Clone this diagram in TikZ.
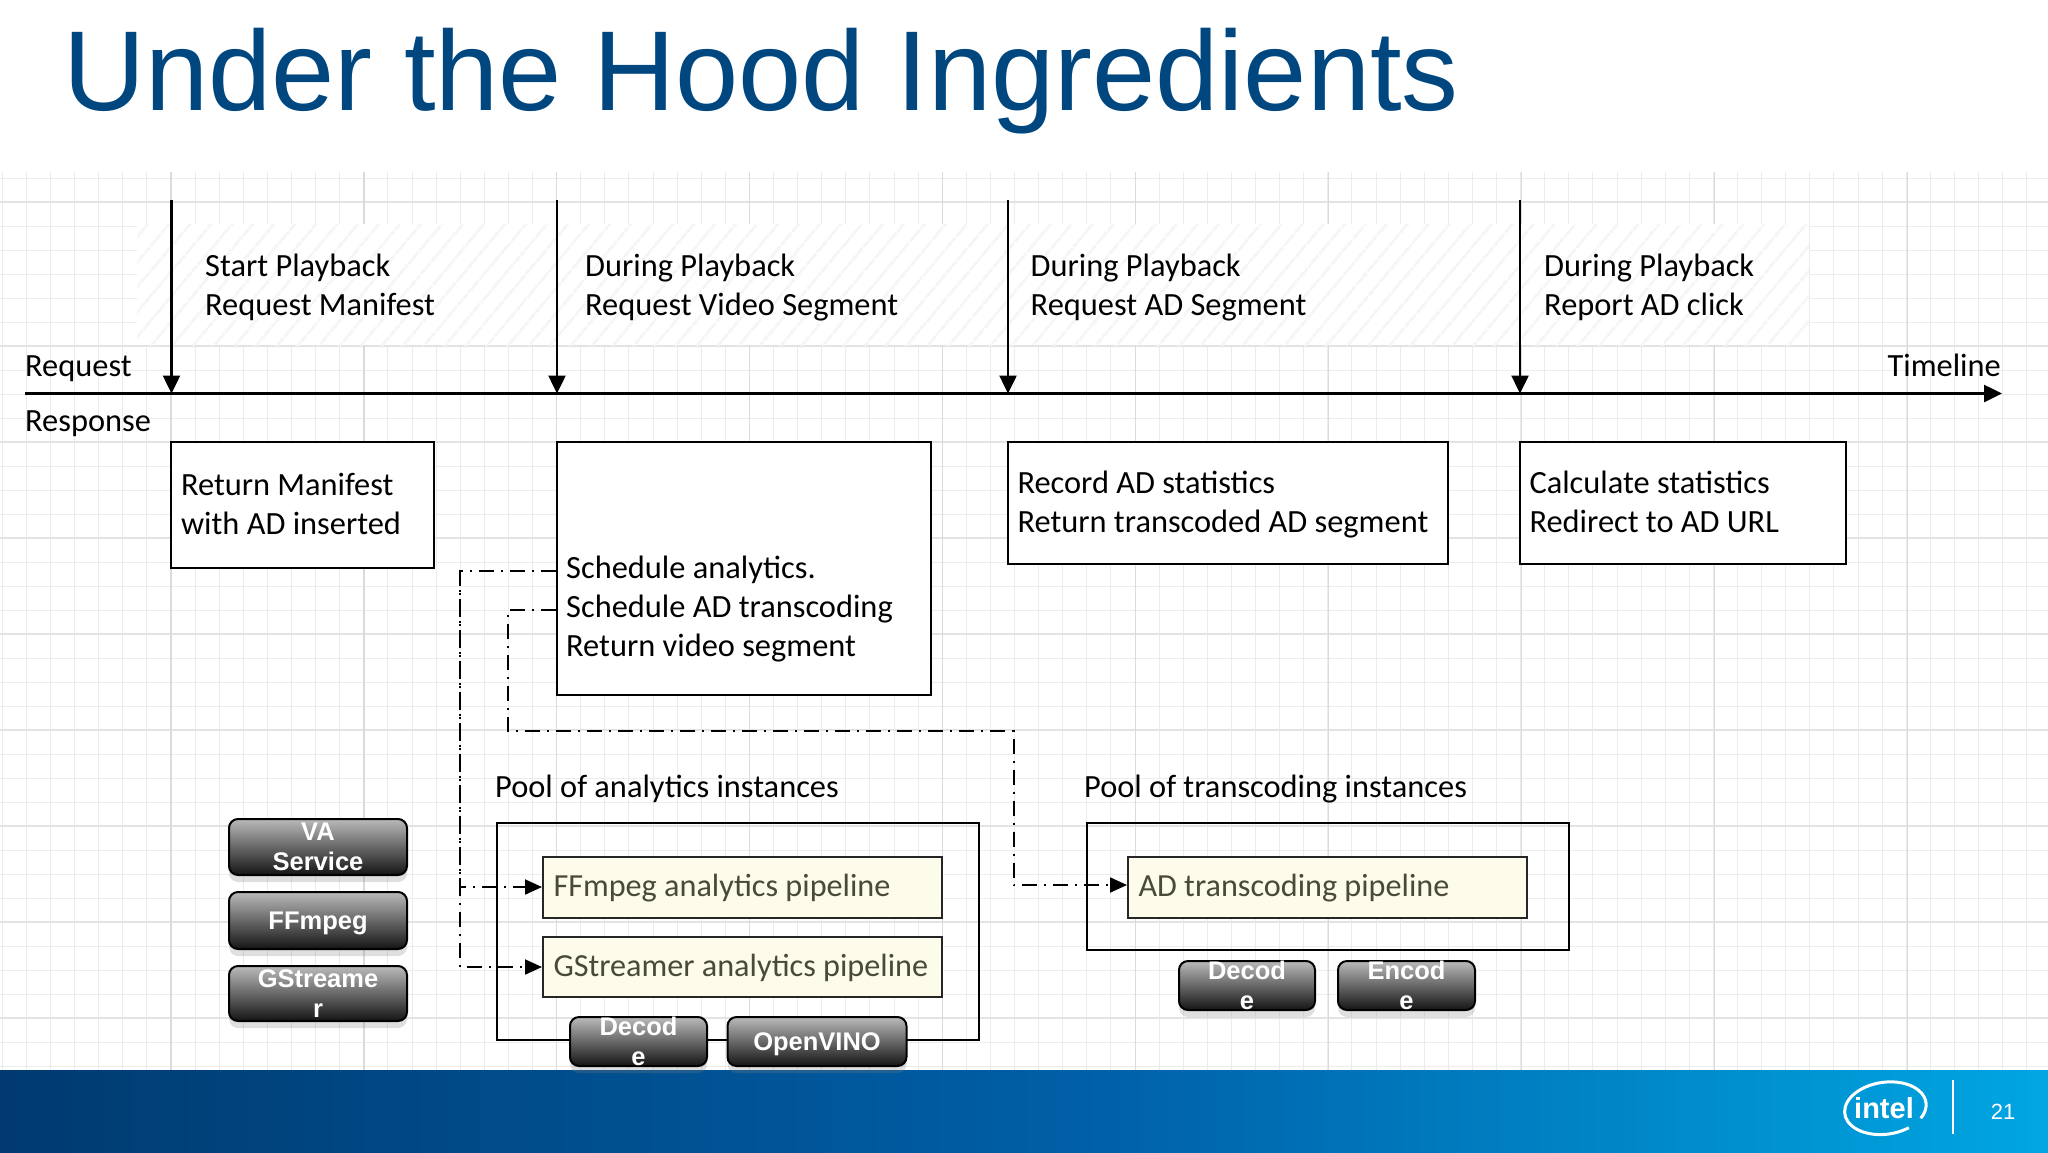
\documentclass[tikz,border=0pt]{standalone}
\usepackage{fontspec}
\setmainfont{Carlito}
\newfontfamily\arialfont{Liberation Sans}
\usetikzlibrary{arrows.meta,shadows,patterns.meta}
\definecolor{titleblue}{HTML}{00467F}
\definecolor{barleft}{HTML}{003A70}
\definecolor{barmid}{HTML}{0060A8}
\definecolor{barright}{HTML}{00A6E2}
\definecolor{pipefill}{HTML}{FDFBEA}
\definecolor{pipetext}{HTML}{4A4A38}
\newcommand{\pilltext}[1]{\smash{\raisebox{-9pt}{\makebox[0pt]{\parbox[c]{170pt}{\centering #1}}}}}
\newcommand{\pilltwo}[1]{\smash{\raisebox{-6.5pt}{\makebox[0pt]{\parbox[c]{170pt}{\centering #1}}}}}
\newcommand{\topstrut}{\rule{0pt}{31pt}}

\begin{document}
\begin{tikzpicture}[
    x=1pt,y=-1pt,
    label/.style={%
      anchor=west,
      align=left,
      inner sep=0pt,
      font=\fontsize{32.4}{38.8}\selectfont,
    },
    respbox/.style={%
      draw,
      line width=2pt,
      fill=white,
      align=flush left,
      inner xsep=10pt,
      inner ysep=0pt,
      execute at begin node=\topstrut,
      execute at end node=\strut,
      font=\fontsize{32.4}{38.8}\selectfont,
    },
    poolbox/.style={%
      draw,
      line width=2pt,
      inner sep=0pt,
    },
    pipebox/.style={%
      draw=black!85,
      line width=2pt,
      fill=pipefill,
      text=pipetext,
      align=flush left,
      inner xsep=10.5pt,
      inner ysep=0pt,
      minimum height=61pt,
      execute at begin node=\topstrut,
      execute at end node=\strut,
      font=\fontsize{32.2}{38.8}\selectfont,
    },
    pill/.style={%
      draw=black,
      line width=2pt,
      rounded corners=9pt,
      top color=black!27,
      bottom color=black!92,
      text=white,
      inner sep=0pt,
      drop shadow={shadow xshift=0pt,shadow yshift=-7pt,opacity=0.25},
      font=\arialfont\bfseries\fontsize{25.5}{30}\selectfont,
    },
    timearrow/.style={%
      line width=2.5pt,
      -{Triangle[length=18pt,width=17pt]},
    },
    flow/.style={%
      line width=2pt,
      dash pattern=on 15pt off 7pt on 2pt off 7pt,
    },
    flowin/.style={%
      flow,
      -{Triangle[length=17pt,width=15pt]},
    },
  ]
    \useasboundingbox (0,0) rectangle (2048,1152);

    % sheet grid
    \foreach \gy in {0,...,37} {
      \draw [black!7,line width=1pt] (0,178+24*\gy) -- (2048,178+24*\gy);
    }
    \foreach \gx in {0,...,84} {
      \draw [black!8,line width=1pt] (2.3+24.1*\gx,172) -- (2.3+24.1*\gx,1070);
    }
    \foreach \gy in {202,346,442,538,634,730,826,922,1018} {
      \draw [black!11,line width=1.6pt] (0,\gy) -- (2048,\gy);
    }
    \foreach \gx in {0,...,10} {
      \draw [black!14,line width=1.2pt] (171+192.9*\gx,172) -- (171+192.9*\gx,1070);
    }

    % hatched band
    \fill [white] (137,224) rectangle (1809,345);
    \fill [pattern={Lines[angle=50,distance=17pt,line width=3pt]},pattern color=black!4] (137,224) rectangle (1809,345);

    % footer bar
    \fill [left color=barleft,right color=barmid] (0,1070) rectangle (1100,1152);
    \fill [left color=barmid,right color=barright] (1100,1070) rectangle (2048,1152);

    \node [anchor=base west,inner sep=0pt,text=titleblue,font=\arialfont\fontsize{113.6}{120}\selectfont] (title) at (63,110) {Under the Hood Ingredients};

    % request side
    \coordinate (req1) at (171.5,200);
    \coordinate (req2) at (557,200);
    \coordinate (req3) at (1008,200);
    \coordinate (req4) at (1520,200);
    \coordinate (time1) at (171.5,393.5);
    \coordinate (time2) at (557,393.5);
    \coordinate (time3) at (1008,393.5);
    \coordinate (time4) at (1520,393.5);
    \coordinate (timeL) at (25,393.5);
    \coordinate (timeR) at (2002,393.5);

    \node [label] (lreq1) at (205,287.5) {Start Playback\\Request Manifest};
    \node [label] (lreq2) at (585,287.5) {During Playback\\Request Video Segment};
    \node [label] (lreq3) at (1030.5,287.5) {During Playback\\Request AD Segment};
    \node [label] (lreq4) at (1544,287.5) {During Playback\\Report AD click};
    \node [label] (request) at (25,369) {Request};
    \node [label] (response) at (25,424) {Response};
    \node [label,anchor=east] (timeline) at (2001,365) {Timeline};

    \draw [timearrow] (req1) -- (time1);
    \draw [timearrow] (req2) -- (time2);
    \draw [timearrow] (req3) -- (time3);
    \draw [timearrow] (req4) -- (time4);
    \draw [timearrow] (timeL) -- (timeR);

    % response side
    \node [respbox,minimum height=126pt,text width=243pt] (manifest) at (302.5,505) {Return Manifest\\with AD inserted};
    \node [respbox,minimum height=253pt,text width=354pt] (sched) at (743.5,568.5) {};
    \node [label] (schedtext) at (566,609) {Schedule analytics.\\Schedule AD transcoding\\Return video segment};
    \node [respbox,minimum height=122pt,text width=420pt] (record) at (1227.5,503) {Record AD statistics\\Return transcoded AD segment};
    \node [respbox,minimum height=122pt,text width=306pt] (calc) at (1682.5,503) {Calculate statistics\\Redirect to AD URL};

    % pools
    \node [label] (lpoola) at (495,789) {Pool of analytics instances};
    \node [label] (lpoolt) at (1084,789) {Pool of transcoding instances};
    \node [poolbox,minimum width=482pt,minimum height=217pt] (poola) at (738,931.5) {};
    \node [poolbox,minimum width=482pt,minimum height=127pt] (poolt) at (1328,886.5) {};
    \node [pipebox,text width=378pt] (ffpipe) at (742.5,887) {FFmpeg analytics pipeline};
    \node [pipebox,text width=378pt,minimum height=60pt] (gstpipe) at (742.5,967) {GStreamer analytics pipeline};
    \node [pipebox,text width=378pt] (adpipe) at (1327.5,887) {AD transcoding pipeline};

    % dispatch
    \coordinate (schedA) at (556,571);
    \coordinate (schedB) at (556,610);
    \coordinate (tapA) at (460,571);
    \coordinate (tapB) at (508,610);
    \coordinate (tapC) at (508,731);
    \coordinate (tapD) at (1013.5,731);
    \draw [flowin] (schedA) -- (tapA) |- (ffpipe.west);
    \draw [flowin] (tapA) |- (gstpipe.west);
    \draw [flowin] (schedB) -- (tapB) -- (tapC) -- (tapD) |- (adpipe.west |- 0,885);

    % building blocks
    \node [pill,minimum width=178pt,minimum height=56pt] (vaservice) at (318,847) {\pilltwo{VA\\Service}};
    \node [pill,minimum width=178pt,minimum height=57pt] (ffmpeg) at (318,920.5) {\pilltext{FFmpeg}};
    \node [pill,minimum width=178pt,minimum height=55pt] (gstreamer) at (318,993.5) {\pilltwo{GStreame\\r}};
    \node [pill,minimum width=137pt,minimum height=49pt] (decodea) at (638.5,1041.5) {\pilltwo{Decod\\e}};
    \node [pill,minimum width=179pt,minimum height=49pt] (openvino) at (817,1041.5) {\pilltext{OpenVINO}};
    \node [pill,minimum width=136pt,minimum height=49pt] (decodet) at (1247,985.5) {\pilltwo{Decod\\e}};
    \node [pill,minimum width=137pt,minimum height=49pt] (encode) at (1406.5,985.5) {\pilltwo{Encod\\e}};

    % logo and page number
    \node [text=white,inner sep=0pt,font=\arialfont\bfseries\fontsize{29}{29}\selectfont] (intel) at (1884,1108) {intel};
    \draw [white,line width=3pt,rotate around={8:(1886,1109)}] (1906,1130.65) arc[start angle=60,end angle=395,x radius=41,y radius=26];
    \coordinate (divtop) at (1953,1080);
    \coordinate (divbot) at (1953,1134);
    \draw [white,line width=1.5pt] (divtop) -- (divbot);
    \node [text=white,inner sep=0pt,font=\arialfont\fontsize{22}{22}\selectfont] (pageno) at (2003,1112) {21};
\end{tikzpicture}
\end{document}
